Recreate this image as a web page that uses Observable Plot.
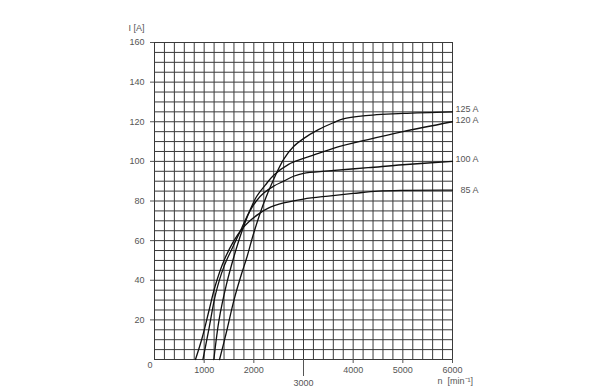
<!DOCTYPE html>
<html>
<head>
<meta charset="utf-8">
<script src="https://cdn.jsdelivr.net/npm/d3@7"></script>
<script src="https://cdn.jsdelivr.net/npm/@observablehq/plot@0.6"></script>
<style>
  html, body { margin: 0; padding: 0; background: #fff; }
  svg { display: block; }
</style>
</head>
<body>
<div id="chart"></div>
<script>
// Series: speed n [min^-1] vs current I [A]
const rpm85  = [825, 960, 1100, 1220, 1400, 1600, 1750, 1900, 2100, 2300, 2600, 3000, 3500, 4000, 4500, 5000, 6000];
const amp85  = [0, 11, 25, 37, 50, 60, 65.5, 69.5, 73.5, 76.5, 79, 81, 82.5, 83.8, 85, 85.4, 85.5];

const rpm100 = [975, 1100, 1230, 1400, 1600, 1750, 1900, 2050, 2200, 2400, 2600, 2800, 3000, 3500, 4300, 5000, 6000];
const amp100 = [0, 16, 33, 47, 58, 66, 74, 80, 84, 87.5, 90, 92.5, 94, 95.2, 96.8, 98.3, 100];

const rpm120 = [1195, 1300, 1450, 1600, 1750, 1900, 2050, 2230, 2400, 2700, 3000, 3300, 3600, 4300, 5000, 6000];
const amp120 = [0, 20, 38, 52, 64, 74, 82, 88, 93, 98.5, 101.5, 104, 106.6, 111, 115, 120];

const rpm125 = [1310, 1450, 1600, 1750, 1865, 2000, 2200, 2400, 2600, 2800, 3000, 3300, 3600, 3800, 4200, 5000, 6000];
const amp125 = [0, 14, 30, 43, 52, 64, 79, 91, 101, 107.5, 111.5, 116, 119.5, 121.5, 123, 124.2, 125];

const seriesNames = ["85 A", "100 A", "120 A", "125 A"];
const labelValues = [85.5, 101, 121, 126.5];

const yTicks = [20, 40, 60, 80, 100, 120, 140, 160];
const xTicksUpper = [1000, 2000, 4000, 5000, 6000];
const xTicksLower = [3000];

const series = [
  [rpm85, amp85], [rpm100, amp100], [rpm120, amp120], [rpm125, amp125]
];
const rows = series.flatMap(([xs, ys], i) => xs.map((x, j) => ({name: seriesNames[i], n: x, I: ys[j]})));
const labels = seriesNames.map((s, i) => ({name: s, n: 6000, I: labelValues[i]}));

const gridX = d3.range(0, 6001, 200);
const gridY = d3.range(0, 161, 5);

const txt = "#555";
const font = "'Liberation Sans', Arial, sans-serif";

const chart = Plot.plot({
  width: 600,
  height: 390,
  marginLeft: 154,
  marginRight: 148,
  marginTop: 42,
  marginBottom: 31,
  style: {fontFamily: font, fontSize: "9px", color: txt, background: "#fff"},
  x: {domain: [0, 6000], label: null},
  y: {domain: [0, 160], label: null},
  marks: [
    Plot.ruleX(gridX, {stroke: "#3a3a3a", strokeWidth: 1}),
    Plot.ruleY(gridY, {stroke: "#3a3a3a", strokeWidth: 1}),
    Plot.line(rows, {x: "n", y: "I", z: "name", stroke: "#111", strokeWidth: 1.3, curve: "catmull-rom"}),
    Plot.axisY(yTicks, {tickSize: 4, tickPadding: 6, tickFormat: d => String(d), stroke: "#555", fill: txt, label: null}),
    Plot.axisX(xTicksUpper, {tickSize: 4, tickPadding: 3, tickFormat: d => String(d), stroke: "#555", fill: txt, label: null}),
    Plot.axisX(xTicksLower, {tickSize: 17, tickPadding: 3, tickFormat: d => String(d), stroke: "#555", fill: txt, label: null}),
    Plot.text(["0"], {frameAnchor: "bottom-left", dx: -7, dy: 8, fill: txt}),
    Plot.text(labels, {x: "n", y: "I", text: "name", textAnchor: "end", dx: 26, fill: txt}),
    Plot.text(["I [A]"], {frameAnchor: "top-left", textAnchor: "start", dx: -26, dy: -18, fill: txt}),
    Plot.text(["n  [min\u207B\u00B9]"], {frameAnchor: "bottom-right", textAnchor: "start", dx: -15, dy: 24, fill: txt})
  ]
});
document.getElementById("chart").appendChild(chart);
</script>
</body>
</html>
